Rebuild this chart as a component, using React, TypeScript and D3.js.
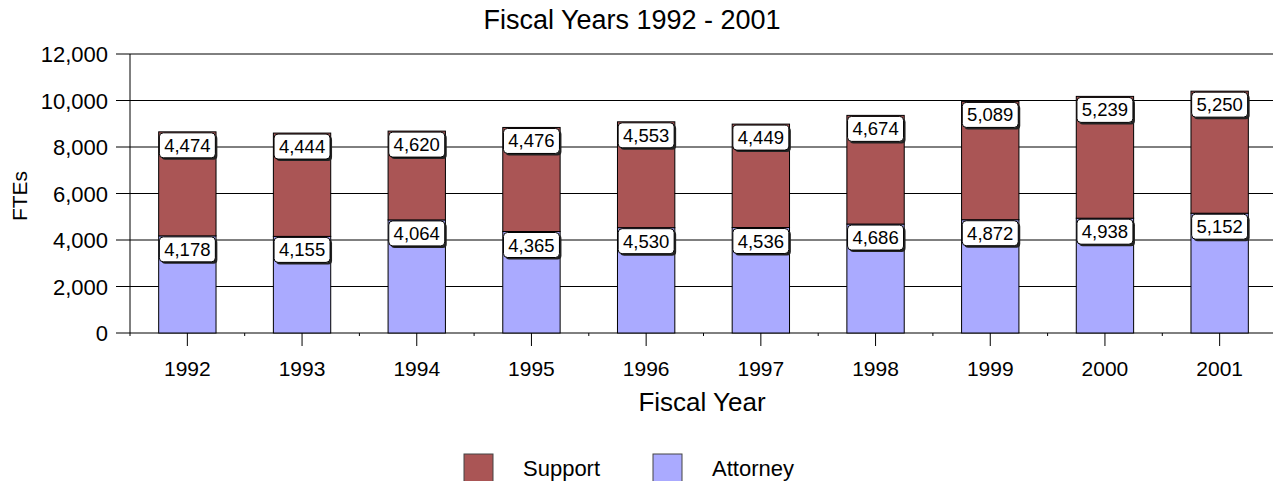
import React from "react";
import * as d3 from "d3";

const years = ["1992","1993","1994","1995","1996","1997","1998","1999","2000","2001"];
// label values as printed
const attorney = [4178,4155,4064,4365,4530,4536,4686,4872,4938,5152];
const support = [4474,4444,4620,4476,4553,4449,4674,5089,5239,5250];
// attorney segment heights as drawn (1994 segment is drawn near 4,864 in the reference)
const attorneyBar = [4178,4155,4864,4365,4530,4536,4686,4872,4938,5152];
const yTicks = [0,2000,4000,6000,8000,10000,12000];
const seriesNames = ["Support","Attorney"];
const seriesColors = ["#AA5555","#AAAAFF"];

const W = 1273, H = 481;
const left = 130, right = 1277, top = 54, bottom = 333;

export default function App() {
  const x = d3.scaleBand<string>().domain(years).range([left, right]).paddingInner(0.5).paddingOuter(0.25);
  const y = d3.scaleLinear().domain([0, 12000]).range([bottom, top]);
  const fmt = d3.format(",");
  const bw = x.bandwidth();
  const step = x.step();
  const font = "Arial, 'Liberation Sans', sans-serif";
  const labelW = 56, labelH = 25;

  const label = (cx: number, ty: number, v: number, key: string) => (
    <g key={key}>
      <rect x={cx - labelW / 2 + 2} y={ty + 2} width={labelW} height={labelH} rx={4} fill="#222" />
      <rect x={cx - labelW / 2} y={ty} width={labelW} height={labelH} rx={4} fill="#fff" stroke="#000" strokeWidth={1} />
      <text x={cx} y={ty + 19} textAnchor="middle" fontSize={18.5} fontFamily={font} fill="#000">{fmt(v)}</text>
    </g>
  );

  return (
    <svg width={W} height={H} style={{ position: "absolute", left: 0, top: 0, background: "#fff" }}>
      <rect x={0} y={0} width={W} height={H} fill="#fff" />
      <text x={632} y={29} textAnchor="middle" fontSize={27} fontFamily={font}>Fiscal Years 1992 - 2001</text>
      {yTicks.map((t) => (
        <g key={t}>
          <line x1={116} x2={right} y1={y(t)} y2={y(t)} stroke="#000" strokeWidth={1} />
          <text x={108} y={y(t) + 8} textAnchor="end" fontSize={22} fontFamily={font}>{fmt(t)}</text>
        </g>
      ))}
      <line x1={left} x2={left} y1={top} y2={bottom} stroke="#000" />
      {years.map((yr) => {
        const x0 = x(yr)!;
        const cx = x0 + bw / 2;
        return (
          <g key={yr}>
            <line x1={cx} x2={cx} y1={bottom} y2={bottom + 13} stroke="#000" />
            <line x1={x0 - step / 4} x2={x0 - step / 4} y1={bottom} y2={bottom + 3} stroke="#000" />
            <text x={cx} y={376} textAnchor="middle" fontSize={21} fontFamily={font}>{yr}</text>
          </g>
        );
      })}
      {years.map((yr, i) => {
        const x0 = x(yr)!;
        const a = attorneyBar[i], t = attorney[i] + support[i];
        return (
          <g key={"b" + yr}>
            <rect x={x0} y={y(a)} width={bw} height={y(0) - y(a)} fill={seriesColors[1]} stroke="#000" strokeWidth={1} />
            <rect x={x0} y={y(t)} width={bw} height={y(a) - y(t)} fill={seriesColors[0]} stroke="#000" strokeWidth={1} />
          </g>
        );
      })}
      {years.map((yr, i) => {
        const cx = x(yr)! + bw / 2;
        const a = attorneyBar[i], t = attorney[i] + support[i];
        return (
          <g key={"l" + yr}>
            {label(cx, y(a) + 1, attorney[i], "a")}
            {label(cx, y(t) + 1, support[i], "s")}
          </g>
        );
      })}
      <text transform={`translate(27,196) rotate(-90)`} textAnchor="middle" fontSize={21} fontFamily={font}>FTEs</text>
      <text x={702} y={411} textAnchor="middle" fontSize={26} fontFamily={font}>Fiscal Year</text>
      {seriesNames.map((n, i) => {
        const sx = [464, 653][i];
        const tx = [523, 712][i];
        return (
          <g key={n}>
            <rect x={sx} y={454} width={29} height={30} fill={seriesColors[i]} stroke="#444" />
            <text x={tx} y={476} fontSize={22} fontFamily={font}>{n}</text>
          </g>
        );
      })}
    </svg>
  );
}
